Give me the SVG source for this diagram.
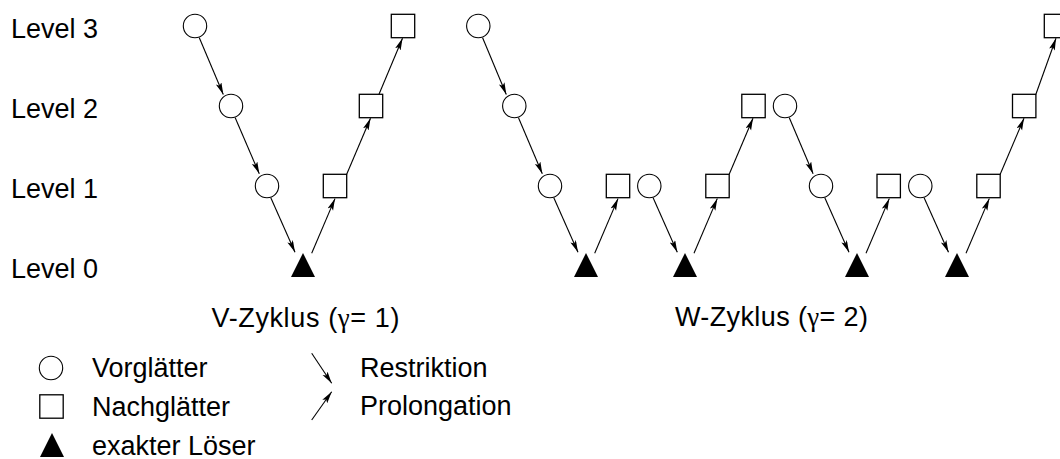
<svg xmlns="http://www.w3.org/2000/svg" width="1060" height="459" viewBox="0 0 1060 459">
  <style>
    text { font-family: "Liberation Sans", Arial, sans-serif; font-size: 27px; fill: #000; }
    .greek { font-family: "Liberation Serif", "Times New Roman", serif; }
    .pre { fill: #fff; stroke: #000; stroke-width: 1.1; }
    .post { fill: #fff; stroke: #000; stroke-width: 1.3; }
    .solve { fill: #000; stroke: none; }
    .edge { stroke: #000; stroke-width: 1.1; fill: none; marker-end: url(#head); }
  </style>
  <defs>
    <marker id="head" markerUnits="userSpaceOnUse" markerWidth="14" markerHeight="8" refX="12" refY="3" orient="auto">
      <path d="M0,0 L12,3 L0,6 L2.5,3 Z" fill="#000"/>
    </marker>
    <circle id="pre" r="11.7" class="pre"/>
    <rect id="post" x="-11.7" y="-11.7" width="23.4" height="23.4" class="post"/>
    <path id="solve" d="M0,-12 L12,12 L-12,12 Z" class="solve"/>
  </defs>

  <!-- level labels -->
  <g id="levels">
    <text x="11" y="38.3">Level 3</text>
    <text x="11" y="118.3">Level 2</text>
    <text x="11" y="198.3">Level 1</text>
    <text x="11" y="278.3">Level 0</text>
  </g>

  <!-- V-cycle nodes -->
  <g id="v-pre3"><use href="#pre" x="195" y="26"/></g>
  <g id="v-pre2"><use href="#pre" x="231" y="106"/></g>
  <g id="v-pre1"><use href="#pre" x="267" y="186"/></g>
  <g id="v-solve"><use href="#solve" x="303" y="265"/></g>
  <g id="v-post1"><use href="#post" x="335" y="186"/></g>
  <g id="v-post2"><use href="#post" x="371" y="106"/></g>
  <g id="v-post3"><use href="#post" x="403" y="26"/></g>

  <!-- W-cycle nodes -->
  <g id="w-pre3"><use href="#pre" x="478.3" y="26"/></g>
  <g id="w-pre2a"><use href="#pre" x="514.3" y="106"/></g>
  <g id="w-pre1a"><use href="#pre" x="550" y="186"/></g>
  <g id="w-solve1"><use href="#solve" x="586" y="265"/></g>
  <g id="w-post1a"><use href="#post" x="618" y="186"/></g>
  <g id="w-pre1b"><use href="#pre" x="649.3" y="186"/></g>
  <g id="w-solve2"><use href="#solve" x="685" y="265"/></g>
  <g id="w-post1b"><use href="#post" x="717.5" y="186"/></g>
  <g id="w-post2a"><use href="#post" x="753.5" y="106"/></g>
  <g id="w-pre2b"><use href="#pre" x="785" y="106"/></g>
  <g id="w-pre1c"><use href="#pre" x="821" y="186"/></g>
  <g id="w-solve3"><use href="#solve" x="857" y="265"/></g>
  <g id="w-post1c"><use href="#post" x="888.7" y="186"/></g>
  <g id="w-pre1d"><use href="#pre" x="920.3" y="186"/></g>
  <g id="w-solve4"><use href="#solve" x="957" y="265"/></g>
  <g id="w-post1d"><use href="#post" x="988.5" y="186"/></g>
  <g id="w-post2b"><use href="#post" x="1024.2" y="106"/></g>
  <g id="w-post3"><use href="#post" x="1056" y="26"/></g>

  <!-- restriction and prolongation arrows -->
  <g id="connectors">
    <line class="edge" x1="199.3" y1="37.7" x2="223.3" y2="94.5"/>
    <line class="edge" x1="235.2" y1="117.7" x2="259.3" y2="173.8"/>
    <line class="edge" x1="270.8" y1="197.8" x2="295" y2="252.3"/>
    <line class="edge" x1="311.7" y1="253.3" x2="335" y2="198.6"/>
    <line class="edge" x1="346.7" y1="174.3" x2="370.5" y2="118.3"/>
    <line class="edge" x1="379" y1="94.3" x2="402.5" y2="38.3"/>

    <line class="edge" x1="482.6" y1="37.7" x2="506.3" y2="94.5"/>
    <line class="edge" x1="518.5" y1="117.7" x2="542.3" y2="173.8"/>
    <line class="edge" x1="553.8" y1="197.8" x2="578" y2="252.3"/>
    <line class="edge" x1="594.7" y1="253.3" x2="618" y2="198.6"/>
    <line class="edge" x1="653.1" y1="197.8" x2="677.3" y2="252.3"/>
    <line class="edge" x1="694" y1="253.3" x2="717.3" y2="198.6"/>
    <line class="edge" x1="729.2" y1="174.3" x2="753" y2="118.3"/>
    <line class="edge" x1="789.3" y1="117.7" x2="813.1" y2="173.8"/>
    <line class="edge" x1="824.8" y1="197.8" x2="849" y2="252.3"/>
    <line class="edge" x1="866" y1="253.3" x2="889.3" y2="198.6"/>
    <line class="edge" x1="924.1" y1="197.8" x2="948.5" y2="252.3"/>
    <line class="edge" x1="966" y1="253.3" x2="989.3" y2="198.6"/>
    <line class="edge" x1="1000.2" y1="174.3" x2="1024" y2="118.3"/>
    <line class="edge" x1="1035.9" y1="94.3" x2="1056" y2="38.3"/>
  </g>

  <!-- cycle captions -->
  <g id="captions">
    <text x="211.5" y="326.5" textLength="188" lengthAdjust="spacing">V-Zyklus (<tspan class="greek">γ</tspan>= 1)</text>
    <text x="675" y="325.5" textLength="193" lengthAdjust="spacing">W-Zyklus (<tspan class="greek">γ</tspan>= 2)</text>
  </g>

  <!-- legend -->
  <g id="legend">
    <g id="legend-pre"><use href="#pre" x="51" y="368"/><text x="92" y="377">Vorglätter</text></g>
    <g id="legend-post"><use href="#post" x="51.5" y="406.5"/><text x="92" y="416">Nachglätter</text></g>
    <g id="legend-solve"><use href="#solve" x="52" y="445"/><text x="92" y="455">exakter Löser</text></g>
    <g id="legend-restrict"><line class="edge" x1="311.7" y1="353.3" x2="331.7" y2="383.3"/><text x="360" y="377">Restriktion</text></g>
    <g id="legend-prolong"><line class="edge" x1="311.7" y1="420" x2="331.7" y2="391.7"/><text x="360" y="415">Prolongation</text></g>
  </g>
</svg>
